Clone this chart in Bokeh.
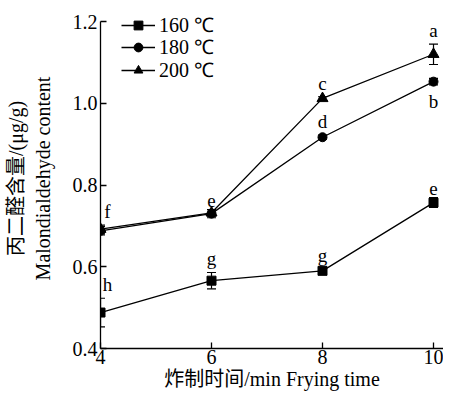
from bokeh.plotting import figure
from bokeh.models import ColumnDataSource, Whisker, FixedTicker, NumeralTickFormatter, Legend, LegendItem, Range1d, TeeHead
from bokeh.embed import file_html
from bokeh.resources import INLINE
from bokeh.core.properties import value

# ---- data ----
times = [4, 6, 8, 10]
series_names = ["160 ℃", "180 ℃", "200 ℃"]
mda_160 = [0.488, 0.566, 0.590, 0.757]
mda_180 = [0.688, 0.730, 0.917, 1.053]
mda_200 = [0.692, 0.732, 1.012, 1.120]
err_160 = [0.035, 0.020, 0.005, 0.012]
err_180 = [0.010, 0.010, 0.005, 0.008]
err_200 = [0.010, 0.008, 0.004, 0.025]
letters_160 = ["h", "g", "g", "e"]
letters_180 = ["", "", "d", "b"]
letters_200 = ["f", "e", "c", "a"]
letter_side_180 = ["above", "above", "above", "below"]
y_ticks = [0.4, 0.6, 0.8, 1.0, 1.2]
x_ticks = [4, 6, 8, 10]

SERIF = "Liberation Serif"
SERIF_CJK = "Liberation Serif, Noto Sans CJK SC"

p = figure(width=443, height=392, output_backend="svg", toolbar_location=None,
           x_range=Range1d(4, 10.18), y_range=Range1d(0.4, 1.232),
           min_border_left=100, min_border_right=0, min_border_top=8, min_border_bottom=43)
p.outline_line_color = None
p.grid.visible = False
p.background_fill_color = "white"
p.border_fill_color = "white"

for ax in (p.xaxis[0], p.yaxis[0]):
    ax.major_tick_in = 6
    ax.major_tick_out = 0
    ax.minor_tick_line_color = None
    ax.axis_line_color = "black"
    ax.axis_line_width = 1.3
    ax.major_tick_line_width = 1.3
    ax.major_label_text_font = SERIF
    ax.major_label_text_font_size = "20px"
    ax.major_label_text_color = "black"
    ax.axis_label_text_font = SERIF_CJK
    ax.axis_label_text_font_style = "normal"
    ax.axis_label_text_color = "black"

p.yaxis.bounds = (0.4, 1.2)
p.xaxis.ticker = FixedTicker(ticks=x_ticks)
p.yaxis.ticker = FixedTicker(ticks=y_ticks)
p.yaxis.formatter = NumeralTickFormatter(format="0.0")
p.xaxis.major_label_standoff = 1
p.yaxis.major_label_standoff = 3
p.xaxis.axis_label = "炸制时间/min Frying time"
p.xaxis.axis_label_text_font_size = "20px"
p.xaxis.axis_label_standoff = 1
p.yaxis.axis_label = "丙二醛含量/(μg/g)\nMalondialdehyde content"
p.yaxis.axis_label_text_font_size = "20px"
p.yaxis.axis_label_standoff = 16

items = []
specs = [
    (mda_160, err_160, "square", 9),
    (mda_180, err_180, "circle", 9),
    (mda_200, err_200, "triangle", 11),
]
for name, (vals, errs, marker, size) in zip(series_names, specs):
    src = ColumnDataSource(dict(x=times, y=vals,
                                lo=[v - e for v, e in zip(vals, errs)],
                                hi=[v + e for v, e in zip(vals, errs)]))
    w = Whisker(source=src, base="x", lower="lo", upper="hi",
                line_color="black", line_width=1.2)
    w.upper_head = TeeHead(size=9, line_color="black", line_width=1.2)
    w.lower_head = TeeHead(size=9, line_color="black", line_width=1.2)
    p.add_layout(w)
    r1 = p.line("x", "y", source=src, line_color="black", line_width=1.3)
    r2 = p.scatter("x", "y", source=src, marker=marker, size=size,
                   fill_color="black", line_color="black")
    items.append(LegendItem(label=name, renderers=[r1, r2]))

# significance letters
lx, ly, lt, lyo, lxo, lbase = [], [], [], [], [], []
for vals, errs, lets, sides in [
    (mda_160, err_160, letters_160, ["above"] * 4),
    (mda_180, err_180, letters_180, letter_side_180),
    (mda_200, err_200, letters_200, ["above"] * 4),
]:
    for x, v, e, t, s in zip(times, vals, errs, lets, sides):
        if not t:
            continue
        lx.append(x)
        lt.append(t)
        if s == "above":
            ly.append(v + e)
            lyo.append(-3)
            lbase.append("bottom")
        else:
            ly.append(v - e)
            lyo.append(6)
            lbase.append("top")
        lxo.append(7 if x == 4 else 0)
lsrc = ColumnDataSource(dict(x=lx, y=ly, t=lt, yo=lyo, xo=lxo, b=lbase))
p.text("x", "y", text="t", source=lsrc, x_offset="xo", y_offset="yo",
       text_baseline="b", text_align="center", text_font=value(SERIF),
       text_font_size="19px", text_color="black")

# one legend box per entry so that the row pitch matches the reference
legend_bottoms = [310, 288, 265]
for item, vy in zip(items, legend_bottoms):
    legend = Legend(items=[item], location=(21, vy))
    legend.margin = 0
    legend.padding = 0
    legend.spacing = 0
    legend.label_height = 22
    legend.glyph_height = 22
    legend.glyph_width = 34
    legend.label_standoff = 4
    legend.label_text_font = SERIF
    legend.label_text_font_size = "20px"
    legend.label_text_color = "black"
    legend.border_line_color = None
    legend.background_fill_alpha = 0
    p.add_layout(legend)

open("out.html", "w").write(file_html(p, INLINE))
